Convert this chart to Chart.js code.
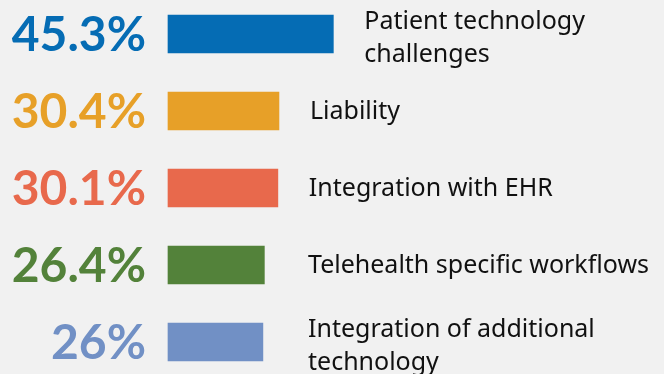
<!DOCTYPE html>
<html>
<head>
<meta charset="utf-8">
<script src="https://cdn.jsdelivr.net/npm/chart.js@4"></script>
<style>
  html, body { margin: 0; padding: 0; background: #f1f1f1; }
  #wrap { width: 664px; height: 374px; position: relative; }
</style>
</head>
<body>
<div id="wrap"><canvas id="c" width="664" height="374"></canvas></div>
<script>
const categories = [
  ['Patient technology', 'challenges'],
  ['Liability'],
  ['Integration with EHR'],
  ['Telehealth specific workflows'],
  ['Integration of additional', 'technology']
];
const values = [45.3, 30.4, 30.1, 26.4, 26];
const valueLabels = ['45.3%', '30.4%', '30.1%', '26.4%', '26%'];
const colors = ['#056cb4', '#e7a028', '#e8694c', '#53823a', '#7190c5'];

const labelPlugin = {
  id: 'labels',
  afterDatasetsDraw(chart) {
    const ctx = chart.ctx;
    const meta = chart.getDatasetMeta(0);
    ctx.save();
    meta.data.forEach((bar, i) => {
      const y = bar.y;
      // value label
      ctx.font = 'bold 48px Lato';
      ctx.fillStyle = colors[i];
      ctx.textAlign = 'right';
      ctx.textBaseline = 'alphabetic';
      ctx.fillText(valueLabels[i], 146, y + 17);
      // category label
      const lines = categories[i];
      const lh = 33;
      const lx = Math.max(308, bar.x + 31);
      ctx.font = '25px "Noto Sans"';
      ctx.fillStyle = '#111111';
      ctx.textAlign = 'left';
      ctx.textBaseline = 'middle';
      const startY = y - (lines.length - 1) * lh / 2 + (lines.length > 1 ? 4 : 1);
      lines.forEach((t, k) => ctx.fillText(t, lx, startY + k * lh));
    });
    ctx.restore();
  }
};

new Chart(document.getElementById('c'), {
  type: 'bar',
  data: {
    labels: categories,
    datasets: [{
      data: values,
      backgroundColor: colors,
      borderWidth: 0,
      barThickness: 38,
      clip: false
    }]
  },
  options: {
    indexAxis: 'y',
    responsive: false,
    animation: false,
    events: [],
    layout: { padding: { left: 168, right: 131, top: 34, bottom: 32 } },
    plugins: { legend: { display: false }, tooltip: { enabled: false } },
    scales: {
      x: { display: false, min: 0, max: 100 },
      y: { display: false, offset: false }
    }
  },
  plugins: [labelPlugin]
});
</script>
</body>
</html>
